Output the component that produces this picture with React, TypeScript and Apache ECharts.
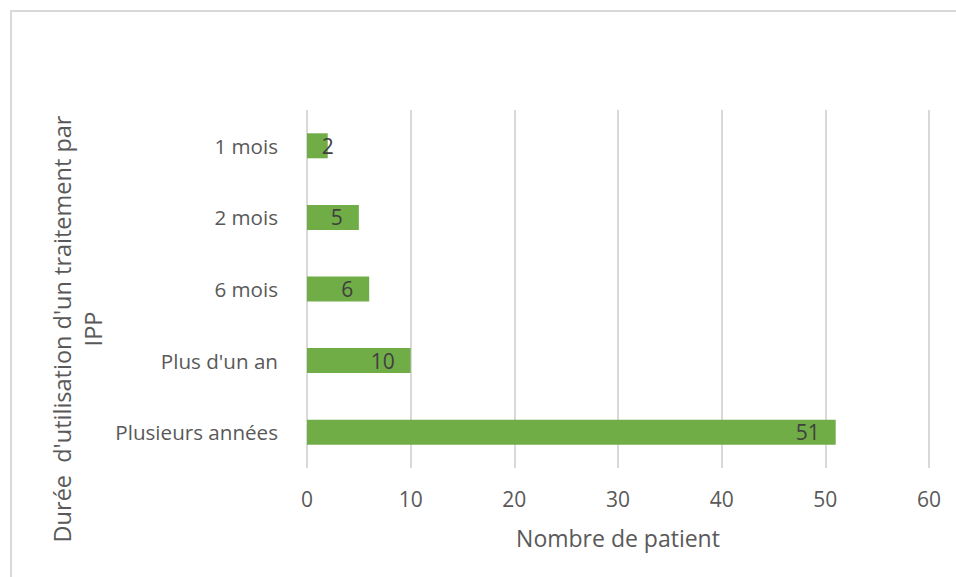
import React, { useEffect, useRef } from "react";
import * as echarts from "echarts";

const categories = ["1 mois", "2 mois", "6 mois", "Plus d'un an", "Plusieurs années"];
const values = [2, 5, 6, 10, 51];
const xTicks = { min: 0, max: 60, interval: 10 };
const xAxisTitle = "Nombre de patient";
const yAxisTitle = "Durée  d'utilisation d'un traitement par\nIPP";

const FONT = "'Open Sans', sans-serif";

export default function App() {
  const ref = useRef<HTMLDivElement>(null);
  useEffect(() => {
    if (!ref.current) return;
    const chart = echarts.init(ref.current, null, { renderer: "svg" });
    const data = values.map((v, i) =>
      i === 0
        ? {
            value: v,
            label: { position: ["100%", "50%"], align: "center", verticalAlign: "middle" },
          }
        : v
    );
    chart.setOption({
      animation: false,
      backgroundColor: "#ffffff",
      textStyle: { fontFamily: FONT },
      grid: { left: 307, right: 27, top: 110, bottom: 109, containLabel: false },
      xAxis: {
        type: "value",
        min: xTicks.min,
        max: xTicks.max,
        interval: xTicks.interval,
        axisLine: { show: false },
        axisTick: { show: false },
        splitLine: { show: true, lineStyle: { color: "#d9d9d9", width: 2 } },
        axisLabel: { color: "#595959", fontSize: 21, fontFamily: FONT, margin: 20 },
        name: xAxisTitle,
        nameLocation: "middle",
        nameGap: 58,
        nameTextStyle: { color: "#595959", fontSize: 23, fontFamily: FONT },
      },
      yAxis: {
        type: "category",
        data: categories,
        inverse: true,
        axisLine: { show: false },
        axisTick: { show: false },
        splitLine: { show: false },
        axisLabel: { color: "#595959", fontSize: 20.6, fontFamily: FONT, margin: 29 },
      },
      series: [
        {
          type: "bar",
          data,
          barWidth: 25,
          itemStyle: { color: "#70AD47" },
          label: {
            show: true,
            position: "insideRight",
            distance: 16,
            color: "#404040",
            fontSize: 21,
            fontFamily: FONT,
          },
        },
      ],
      graphic: [
        {
          type: "rect",
          shape: { x: 11, y: 11, width: 1000, height: 700 },
          style: { fill: "none", stroke: "#d9d9d9", lineWidth: 2 },
          silent: true,
        },
        {
          type: "text",
          x: 77,
          y: 329,
          rotation: Math.PI / 2,
          style: {
            text: yAxisTitle,
            fill: "#595959",
            font: `23.5px ${FONT}`,
            align: "center",
            verticalAlign: "middle",
            lineHeight: 31,
          },
        },
      ],
    });
    return () => chart.dispose();
  }, []);
  return (
    <div
      ref={ref}
      style={{ position: "absolute", left: 0, top: 0, width: 956, height: 577 }}
    />
  );
}
